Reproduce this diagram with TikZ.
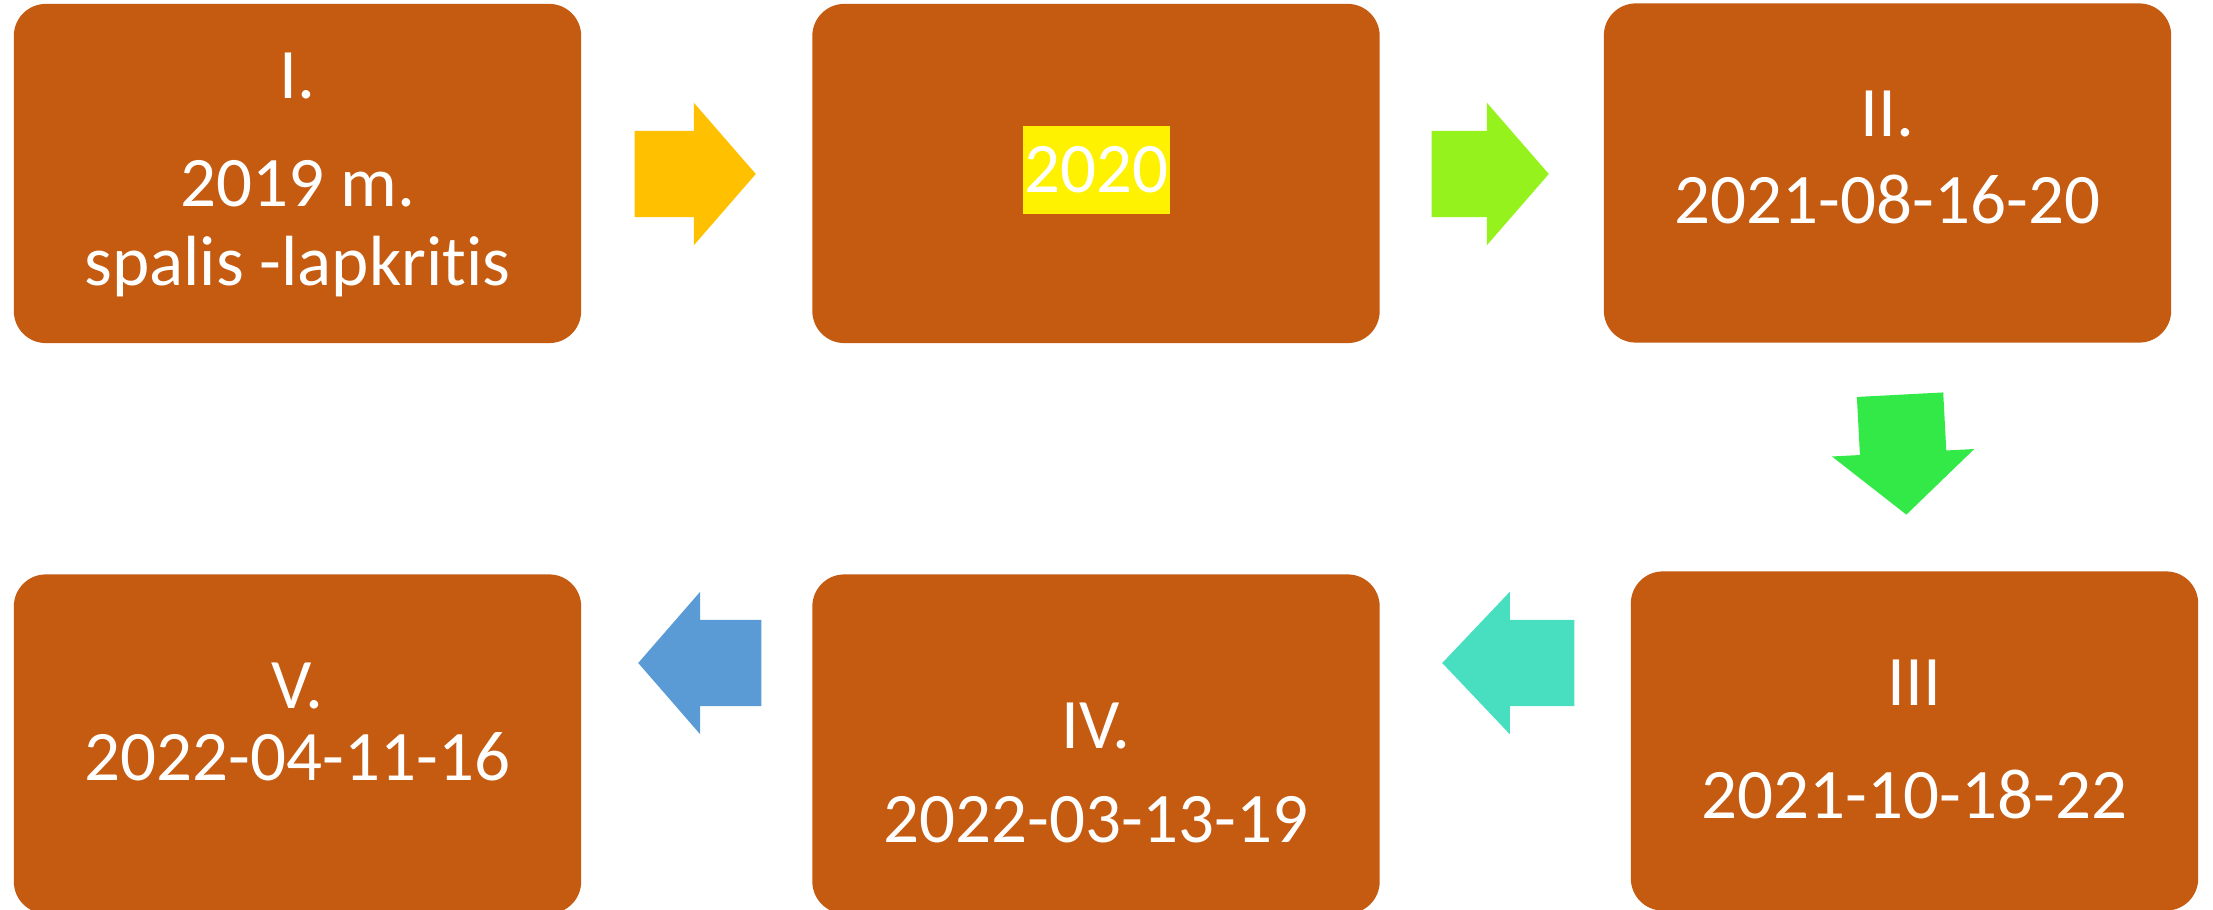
\documentclass[tikz,border=0pt]{standalone}
\usepackage{fontspec}
\setmainfont{Carlito}[Ligatures=NoCommon]
\usetikzlibrary{shapes.arrows}

\definecolor{boxorange}{HTML}{C55A11}
\definecolor{arrowyellow}{HTML}{FFC000}
\definecolor{arrowlime}{HTML}{96F21C}
\definecolor{arrowgreen}{HTML}{32E948}
\definecolor{arrowteal}{HTML}{48DFC0}
\definecolor{arrowblue}{HTML}{5B9BD5}

\begin{document}
\begin{tikzpicture}[x=0.01cm, y=0.01cm,
  box/.style = {rectangle, rounded corners=0.32cm, fill=boxorange,
    minimum width=5.67cm, minimum height=3.39cm, inner sep=0pt},
  txt/.style = {text=white, font=\fontsize{20.2}{24}\selectfont,
    anchor=base, inner sep=0pt},
  blockarrow/.style = {single arrow, single arrow head extend=0.28cm,
    single arrow tip angle=98, inner xsep=0pt, inner ysep=0.425cm,
    anchor=tail}]
  \useasboundingbox (0,0) rectangle (2213,-910);

  % boxes
  \node[box] (I)   at (297.5,-173.5) {};
  \node[box] (Y20) at (1096,-173.5) {};
  \node[box] (II)  at (1887.5,-173) {};
  \node[box] (III) at (1914.5,-741) {};
  \node[box] (IV)  at (1096,-744) {};
  \node[box] (V)   at (297.5,-744) {};

  % texts
  \node[txt] (I-a) at (297.5,-99) {I.};
  \node[txt] (I-b) at (297.5,-207) {2019 m.};
  \node[txt] (I-c) at (297.5,-286) {spalis -lapkritis};
  \node[txt, anchor=center, fill=yellow, minimum width=1.47cm,
    minimum height=0.88cm] (Y20-a) at (1096.5,-170) {2020};
  \node[txt] (II-a) at (1887.5,-137) {II.};
  \node[txt] (II-b) at (1887.5,-224) {2021-08-16-20};
  \node[txt] (III-a) at (1914.5,-705) {III};
  \node[txt] (III-b) at (1914.5,-818) {2021-10-18-22};
  \node[txt] (IV-a) at (1096,-748) {IV.};
  \node[txt] (IV-b) at (1096,-842) {2022-03-13-19};
  \node[txt] (V-a) at (297.5,-708) {V.};
  \node[txt] (V-b) at (297.5,-780) {2022-04-11-16};

  % arrows
  \node[blockarrow, fill=arrowyellow, minimum height=1.21cm] (a1) at (634,-174) {};
  \node[blockarrow, fill=arrowlime, minimum height=1.17cm] (a2) at (1431,-174) {};
  \node[blockarrow, fill=arrowgreen, minimum height=1.20cm, rotate=-87] (a3) at (1900,-394) {};
  \node[blockarrow, fill=arrowteal, minimum height=1.32cm,
    single arrow tip angle=93, rotate=180] (a4) at (1575,-663) {};
  \node[blockarrow, fill=arrowblue, minimum height=1.23cm, rotate=180] (a5) at (762,-663) {};
\end{tikzpicture}
\end{document}
